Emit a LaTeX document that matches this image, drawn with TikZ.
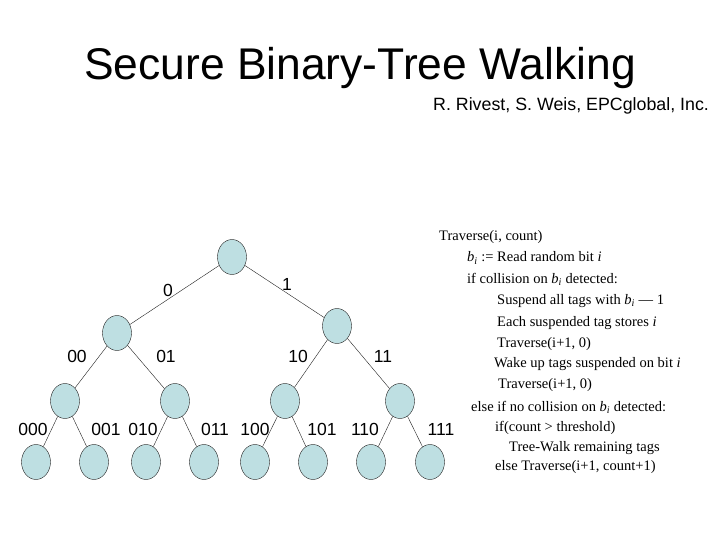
\documentclass[tikz,border=0pt]{standalone}
\usepackage{fontspec}
\setmainfont{Liberation Serif}
\newfontfamily\arialfont{Liberation Sans}
\usepackage{xcolor}
\definecolor{treeFill}{HTML}{BEDFE2}
\definecolor{treeLine}{HTML}{202020}
\usetikzlibrary{shapes.geometric}
\newcommand{\bsub}{\textit{b}\textsubscript{\textit{i}}}

\begin{document}
\begin{tikzpicture}[
  x=1pt, y=-1pt,
  tnode/.style={draw=treeLine, fill=treeFill, ellipse, inner sep=0pt, minimum width=29pt, minimum height=35pt, thin},
  edge/.style={draw=treeLine, thin},
  blabel/.style={font=\arialfont\fontsize{17.5}{20}\selectfont, inner sep=0pt},
  code/.style={anchor=west, inner sep=0pt, font=\fontsize{14.5}{17}\selectfont},
]
  \useasboundingbox[fill=white] (0,0) rectangle (720,540);

  % title
  \node[font=\arialfont\fontsize{44.4}{50}\selectfont, inner sep=0pt] (title) at (360,68) {Secure Binary-Tree Walking};
  \node[font=\arialfont\fontsize{17.8}{21}\selectfont, anchor=west, inner sep=0pt] (credit) at (433,106) {R. Rivest, S. Weis, EPCglobal, Inc.};

  % tree
  \node[tnode] (r) at (232,257) {};
  \node[tnode] (n0) at (117,333) {};
  \node[tnode] (n1) at (337,326) {};
  \node[tnode] (n00) at (65,401) {};
  \node[tnode] (n01) at (175,401) {};
  \node[tnode] (n10) at (285,401) {};
  \node[tnode] (n11) at (400,401) {};
  \node[tnode] (n000) at (36,462) {};
  \node[tnode] (n001) at (94,462) {};
  \node[tnode] (n010) at (146,462) {};
  \node[tnode] (n011) at (204,462) {};
  \node[tnode] (n100) at (255,462) {};
  \node[tnode] (n101) at (313,462) {};
  \node[tnode] (n110) at (371,462) {};
  \node[tnode] (n111) at (430,462) {};

  \draw[edge] (r) -- (n0);
  \draw[edge] (r) -- (n1);
  \draw[edge] (n0) -- (n00);
  \draw[edge] (n0) -- (n01);
  \draw[edge] (n1) -- (n10);
  \draw[edge] (n1) -- (n11);
  \draw[edge] (n00) -- (n000);
  \draw[edge] (n00) -- (n001);
  \draw[edge] (n01) -- (n010);
  \draw[edge] (n01) -- (n011);
  \draw[edge] (n10) -- (n100);
  \draw[edge] (n10) -- (n101);
  \draw[edge] (n11) -- (n110);
  \draw[edge] (n11) -- (n111);

  % edge labels
  \node[blabel] (l0) at (168,290) {0};
  \node[blabel] (l1) at (287,284) {1};
  \node[blabel] (l00) at (77,356) {00};
  \node[blabel] (l01) at (166,356) {01};
  \node[blabel] (l10) at (298,356) {10};
  \node[blabel] (l11) at (383,356) {11};
  \node[blabel] (l000) at (33,429) {000};
  \node[blabel] (l001) at (106,429) {001};
  \node[blabel] (l010) at (143,429) {010};
  \node[blabel] (l011) at (215,429) {011};
  \node[blabel] (l100) at (255,429) {100};
  \node[blabel] (l101) at (322,429) {101};
  \node[blabel] (l110) at (365,429) {110};
  \node[blabel] (l111) at (441,429) {111};

  % pseudo code
  \node[code] (c1) at (439,237) {Traverse(i, count)};
  \node[code] (c2) at (467,258) {\bsub{} := Read random bit \textit{i}};
  \node[code] (c3) at (467,279) {if collision on \bsub{} detected:};
  \node[code] (c4) at (497,301) {Suspend all tags with \bsub{} \textemdash{} 1};
  \node[code] (c5) at (497,323) {Each suspended tag stores \textit{i}};
  \node[code] (c6) at (497,344) {Traverse(i+1, 0)};
  \node[code] (c7) at (494,364) {Wake up tags suspended on bit \textit{i}};
  \node[code] (c8) at (498,385) {Traverse(i+1, 0)};
  \node[code] (c9) at (471,407) {else if no collision on \bsub{} detected:};
  \node[code] (c10) at (495,428) {if(count > threshold)};
  \node[code] (c11) at (509,448) {Tree-Walk remaining tags};
  \node[code] (c12) at (495,467) {else Traverse(i+1, count+1)};
\end{tikzpicture}
\end{document}
